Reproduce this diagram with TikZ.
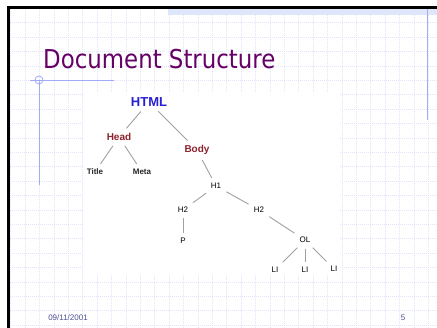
\documentclass[tikz,border=0pt]{standalone}
\usepackage{fontspec}
\setmainfont{Liberation Sans}
\newfontfamily\titlefont[FakeStretch=0.88]{DejaVu Sans}
\usetikzlibrary{positioning}
\definecolor{slidepurple}{RGB}{102,0,102}
\definecolor{gridblue}{RGB}{225,228,250}
\definecolor{rulerblue}{RGB}{160,170,245}
\definecolor{bandblue}{RGB}{222,230,250}
\definecolor{tagblue}{RGB}{40,30,210}
\definecolor{tagred}{RGB}{140,35,45}
\definecolor{footblue}{RGB}{80,80,150}
\definecolor{edgegray}{RGB}{160,160,160}

\begin{document}
\begin{tikzpicture}[x=1pt, y=-1pt, every node/.style={inner sep=2.5pt},
	tag/.style={font=\fontsize{8}{9}\selectfont, text=black},
	leaf/.style={font=\fontsize{8}{9}\selectfont\bfseries, text=black!85},
	section/.style={font=\fontsize{10}{12}\selectfont\bfseries, text=tagred},
	edge/.style={draw=edgegray, line width=0.9pt, shorten >=3pt, shorten <=3pt}]
	\useasboundingbox (0,0) rectangle (437,328);
	\fill[white] (0,0) rectangle (437,328);
	% grid of the slide
	\foreach \k in {0,...,29}
		\draw[gridblue, line width=0.6pt, dash pattern=on 1.2pt off 0.8pt] (10.7+14.4*\k,9) -- (10.7+14.4*\k,328);
	\foreach \k in {0,...,22}
		\draw[gridblue, line width=0.6pt, dash pattern=on 1.2pt off 0.8pt] (10,8.3+14.4*\k) -- (437,8.3+14.4*\k);
	\fill[bandblue] (168,9) rectangle (437,15);
	\draw[black, line width=2.5pt] (8.5,328) -- (8.5,7.5) -- (437,7.5);
	\draw[rulerblue, line width=1.2pt] (427.7,9) -- (427.7,120);
	\draw[rulerblue, line width=0.9pt] (30,80) -- (114,80);
	\draw[rulerblue, line width=0.9pt] (39,80) -- (39,185);
	\draw[rulerblue, line width=0.8pt] (39,80) circle (4);
	\node[anchor=base west, inner sep=0pt, text=slidepurple, font=\titlefont\fontsize{26}{30}\selectfont] (heading) at (43,69) {Document Structure};
	% picture of the tree
	\fill[white] (84,93) rectangle (340,274);
	\node[font=\fontsize{13}{15}\selectfont\bfseries, text=tagblue] (html) at (149,102) {HTML};
	\node[section] (head) at (119,137) {Head};
	\node[section] (body) at (197,150) {Body};
	\node[leaf] (title) at (95,172) {Title};
	\node[leaf] (meta) at (142,172) {Meta};
	\node[tag] (h1) at (216,186) {H1};
	\node[tag] (h2a) at (183,210) {H2};
	\node[tag] (h2b) at (259,210) {H2};
	\node[tag] (p) at (183,241) {P};
	\node[tag] (ol) at (305,240) {OL};
	\node[tag] (lia) at (275,270) {LI};
	\node[tag] (lib) at (305,270) {LI};
	\node[tag] (lic) at (334,269) {LI};
	\draw[edge] (html) -- (head);
	\draw[edge] (html) -- (body);
	\draw[edge] (head) -- (title);
	\draw[edge] (head) -- (meta);
	\draw[edge] (body) -- (h1);
	\draw[edge] (h1) -- (h2a);
	\draw[edge] (h1) -- (h2b);
	\draw[edge] (h2a) -- (p);
	\draw[edge] (h2b) -- (ol);
	\draw[edge] (ol) -- (lia);
	\draw[edge] (ol) -- (lib);
	\draw[edge] (ol) -- (lic);
	% footer
	\node[font=\fontsize{8}{9}\selectfont, text=footblue] (date) at (68,318) {09/11/2001};
	\node[font=\fontsize{8}{9}\selectfont, text=footblue] (page) at (403,318) {5};
\end{tikzpicture}
\end{document}
